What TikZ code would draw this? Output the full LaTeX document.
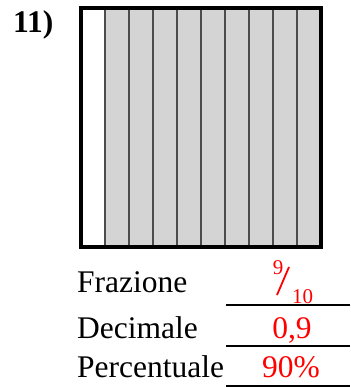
\documentclass[tikz,border=0pt]{standalone}
\usepackage{fontspec}
\setmainfont{Liberation Serif}
\begin{document}
\begin{tikzpicture}[x=1pt, y=-1pt,
    label/.style={anchor=base west, inner sep=0pt, font=\fontsize{31.5}{36}\selectfont},
    answer/.style={anchor=base, inner sep=0pt, text=red, font=\fontsize{31.5}{36}\selectfont},
    small answer/.style={anchor=base, inner sep=0pt, text=red, font=\fontsize{21}{24}\selectfont},
    strip/.style={draw=black!70, line width=1.2pt},
    rule/.style={line width=1.6pt}]

  \useasboundingbox (0,0) rectangle (350,387);

  % === NUMBER ===
  \node[label, font=\fontsize{31.5}{36}\selectfont\bfseries] (num) at (13,33) {11)};

  % === SQUARE ===
  \fill[black!17] (105,8) rectangle (321,247);
  \foreach \x in {105,129,...,297}
    \draw[strip] (\x,8) -- (\x,247);
  \draw[line width=4pt] (81,8) rectangle (321,247);

  % === LABELS ===
  \node[label] (fraz) at (77,292) {Frazione};
  \node[label] (deci) at (77,338) {Decimale};
  \node[label] (perc) at (77,377) {Percentuale};

  % Answer rules
  \coordinate (r1a) at (226,305);
  \coordinate (r1b) at (350,305);
  \coordinate (r2a) at (226,346);
  \coordinate (r2b) at (350,346);
  \coordinate (r3a) at (226,386);
  \coordinate (r3b) at (350,386);
  \draw[rule] (r1a) -- (r1b);
  \draw[rule] (r2a) -- (r2b);
  \draw[rule] (r3a) -- (r3b);

  % === ANSWERS ===
  \node[small answer] (num9) at (278,274) {9};
  \node[small answer] (den10) at (302.5,303) {10};
  \coordinate (sl1) at (277,295);
  \coordinate (sl2) at (289,267);
  \draw[red, line width=1.8pt] (sl1) -- (sl2);
  \node[answer] (dec) at (292,338) {0,9};
  \node[answer] (pct) at (291,377) {90\%};

\end{tikzpicture}
\end{document}
